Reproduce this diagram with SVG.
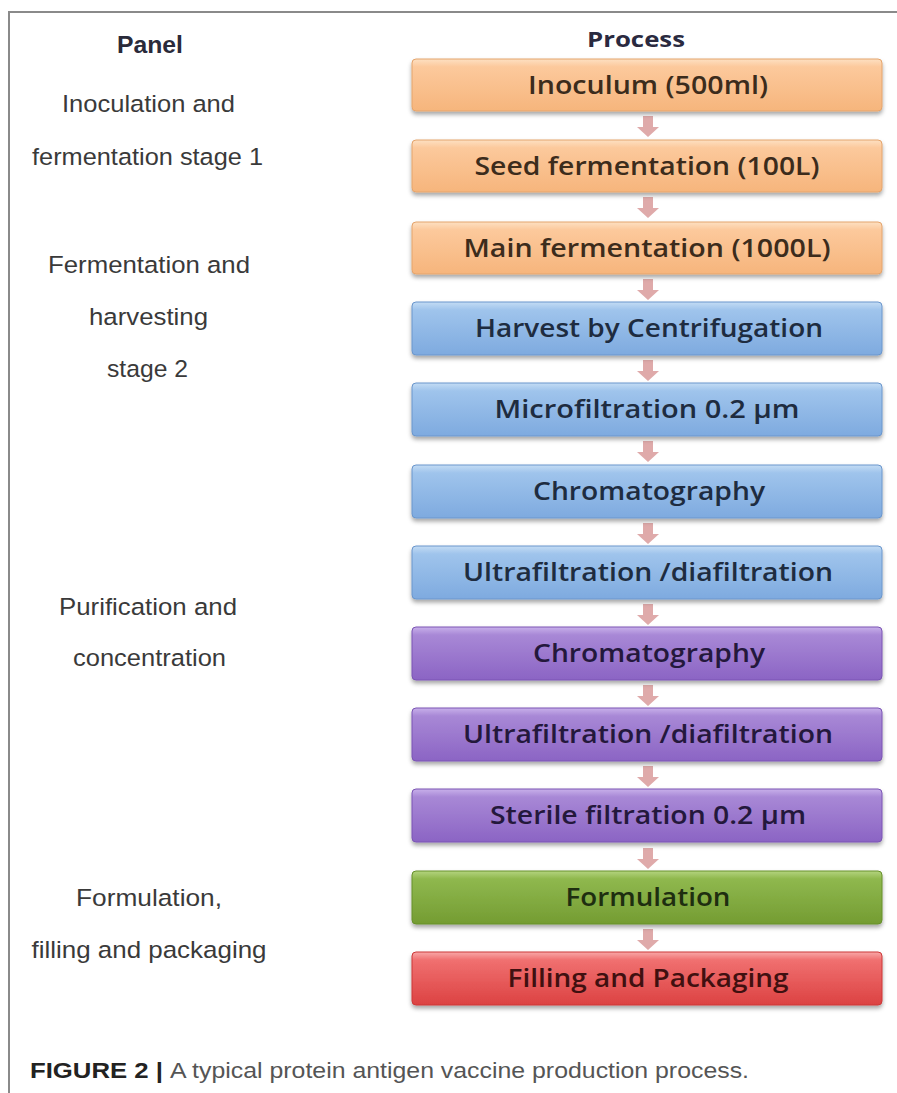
<svg xmlns="http://www.w3.org/2000/svg" width="897" height="1093" viewBox="0 0 897 1093">
<style>
.lbl{font-family:"Liberation Sans",Arial,sans-serif;font-size:24.5px;fill:#3a3a3a;text-anchor:middle}
.hd{font-family:"Liberation Sans",Arial,sans-serif;font-size:23px;font-weight:bold;fill:#2a2a3a;text-anchor:middle}
.ph{font-family:"Open Sans",Lato,sans-serif;font-size:22px;font-weight:bold;fill:#2a2a40;text-anchor:middle}
.bt{font-family:"Open Sans",Lato,sans-serif;font-size:25px;font-weight:600;text-anchor:middle}
.arr{fill:#dfaaaa}
</style>
<defs>
<linearGradient id="gO" x1="0" y1="0" x2="0" y2="1"><stop offset="0" stop-color="#fde0c2"/><stop offset="0.15" stop-color="#fcc99c"/><stop offset="1" stop-color="#f6b57c"/></linearGradient>
<linearGradient id="gB" x1="0" y1="0" x2="0" y2="1"><stop offset="0" stop-color="#c4dcf4"/><stop offset="0.15" stop-color="#9fc4ec"/><stop offset="1" stop-color="#7eaadf"/></linearGradient>
<linearGradient id="gP" x1="0" y1="0" x2="0" y2="1"><stop offset="0" stop-color="#c8b0ea"/><stop offset="0.15" stop-color="#a888d6"/><stop offset="1" stop-color="#8b64c4"/></linearGradient>
<linearGradient id="gG" x1="0" y1="0" x2="0" y2="1"><stop offset="0" stop-color="#b4d47e"/><stop offset="0.15" stop-color="#8fb84e"/><stop offset="1" stop-color="#749c32"/></linearGradient>
<linearGradient id="gR" x1="0" y1="0" x2="0" y2="1"><stop offset="0" stop-color="#f8a8a8"/><stop offset="0.15" stop-color="#f07070"/><stop offset="1" stop-color="#dc4242"/></linearGradient>
<filter id="sh" x="-5%" y="-20%" width="110%" height="150%"><feDropShadow dx="0" dy="3" stdDeviation="2" flood-color="#000" flood-opacity="0.35"/></filter>
<g id="dn"><path class="arr" d="M-5,0 H5 V11 H11 L0,21 L-11,11 H-5 Z"/></g>
</defs>
<rect width="897" height="1093" fill="#fff"/>
<path d="M9,1093 V12 H897" fill="none" stroke="#8a8a8a" stroke-width="2"/>
<text class="hd" x="150" y="53" textLength="66" lengthAdjust="spacingAndGlyphs">Panel</text>
<text class="ph" x="636" y="47" textLength="98" lengthAdjust="spacingAndGlyphs">Process</text>
<g id="labels">
<text class="lbl" x="148.5" y="112" textLength="173" lengthAdjust="spacingAndGlyphs">Inoculation and</text>
<text class="lbl" x="147.5" y="165" textLength="231" lengthAdjust="spacingAndGlyphs">fermentation stage 1</text>
<text class="lbl" x="149" y="273" textLength="202" lengthAdjust="spacingAndGlyphs">Fermentation and</text>
<text class="lbl" x="148.5" y="325" textLength="119" lengthAdjust="spacingAndGlyphs">harvesting</text>
<text class="lbl" x="147.5" y="377" textLength="81" lengthAdjust="spacingAndGlyphs">stage 2</text>
<text class="lbl" x="148" y="615" textLength="178" lengthAdjust="spacingAndGlyphs">Purification and</text>
<text class="lbl" x="149.5" y="666" textLength="153" lengthAdjust="spacingAndGlyphs">concentration</text>
<text class="lbl" x="149" y="906" textLength="146" lengthAdjust="spacingAndGlyphs">Formulation,</text>
<text class="lbl" x="149" y="958" textLength="235" lengthAdjust="spacingAndGlyphs">filling and packaging</text>
</g>
<g id="connectors">
<use href="#dn" x="648" y="116"/>
<use href="#dn" x="648" y="197"/>
<use href="#dn" x="648" y="279"/>
<use href="#dn" x="648" y="360"/>
<use href="#dn" x="648" y="441"/>
<use href="#dn" x="648" y="523"/>
<use href="#dn" x="648" y="604"/>
<use href="#dn" x="648" y="685"/>
<use href="#dn" x="648" y="766"/>
<use href="#dn" x="648" y="848"/>
<use href="#dn" x="648" y="929"/>
</g>
<g id="n1"><rect x="412" y="59" width="470" height="52" rx="4" fill="url(#gO)" stroke="#e4a46c" filter="url(#sh)"/><text class="bt" x="648" y="94" fill="#3c2c1c" textLength="240" lengthAdjust="spacingAndGlyphs">Inoculum (500ml)</text></g>
<g id="n2"><rect x="412" y="140" width="470" height="52" rx="4" fill="url(#gO)" stroke="#e4a46c" filter="url(#sh)"/><text class="bt" x="647" y="175" fill="#3c2c1c" textLength="345" lengthAdjust="spacingAndGlyphs">Seed fermentation (100L)</text></g>
<g id="n3"><rect x="412" y="222" width="470" height="52" rx="4" fill="url(#gO)" stroke="#e4a46c" filter="url(#sh)"/><text class="bt" x="647" y="257" fill="#3c2c1c" textLength="367" lengthAdjust="spacingAndGlyphs">Main fermentation (1000L)</text></g>
<g id="n4"><rect x="412" y="302" width="470" height="53" rx="4" fill="url(#gB)" stroke="#6a96cc" filter="url(#sh)"/><text class="bt" x="649" y="337" fill="#1e2c40" textLength="348" lengthAdjust="spacingAndGlyphs">Harvest by Centrifugation</text></g>
<g id="n5"><rect x="412" y="383" width="470" height="53" rx="4" fill="url(#gB)" stroke="#6a96cc" filter="url(#sh)"/><text class="bt" x="647" y="418" fill="#1e2c40" textLength="305" lengthAdjust="spacingAndGlyphs">Microfiltration 0.2 µm</text></g>
<g id="n6"><rect x="412" y="465" width="470" height="53" rx="4" fill="url(#gB)" stroke="#6a96cc" filter="url(#sh)"/><text class="bt" x="649" y="500" fill="#1e2c40" textLength="232" lengthAdjust="spacingAndGlyphs">Chromatography</text></g>
<g id="n7"><rect x="412" y="546" width="470" height="53" rx="4" fill="url(#gB)" stroke="#6a96cc" filter="url(#sh)"/><text class="bt" x="648" y="581" fill="#1e2c40" textLength="370" lengthAdjust="spacingAndGlyphs">Ultrafiltration /diafiltration</text></g>
<g id="n8"><rect x="412" y="627" width="470" height="53" rx="4" fill="url(#gP)" stroke="#7a54b4" filter="url(#sh)"/><text class="bt" x="649" y="662" fill="#24183c" textLength="232" lengthAdjust="spacingAndGlyphs">Chromatography</text></g>
<g id="n9"><rect x="412" y="708" width="470" height="53" rx="4" fill="url(#gP)" stroke="#7a54b4" filter="url(#sh)"/><text class="bt" x="648" y="743" fill="#24183c" textLength="370" lengthAdjust="spacingAndGlyphs">Ultrafiltration /diafiltration</text></g>
<g id="n10"><rect x="412" y="789" width="470" height="53" rx="4" fill="url(#gP)" stroke="#7a54b4" filter="url(#sh)"/><text class="bt" x="648" y="824" fill="#24183c" textLength="316" lengthAdjust="spacingAndGlyphs">Sterile filtration 0.2 µm</text></g>
<g id="n11"><rect x="412" y="871" width="470" height="53" rx="4" fill="url(#gG)" stroke="#66902a" filter="url(#sh)"/><text class="bt" x="648" y="906" fill="#1e2e10" textLength="165" lengthAdjust="spacingAndGlyphs">Formulation</text></g>
<g id="n12"><rect x="412" y="952" width="470" height="53" rx="4" fill="url(#gR)" stroke="#cc3838" filter="url(#sh)"/><text class="bt" x="648" y="987" fill="#401010" textLength="281" lengthAdjust="spacingAndGlyphs">Filling and Packaging</text></g>
<text x="30" y="1078" style="font-family:'Liberation Sans',Arial,sans-serif;font-size:22px;font-weight:bold;fill:#222" textLength="133" lengthAdjust="spacingAndGlyphs">FIGURE 2 |</text>
<text x="170" y="1078" style="font-family:'Liberation Sans',Arial,sans-serif;font-size:22px;fill:#555" textLength="579" lengthAdjust="spacingAndGlyphs">A typical protein antigen vaccine production process.</text>
</svg>
